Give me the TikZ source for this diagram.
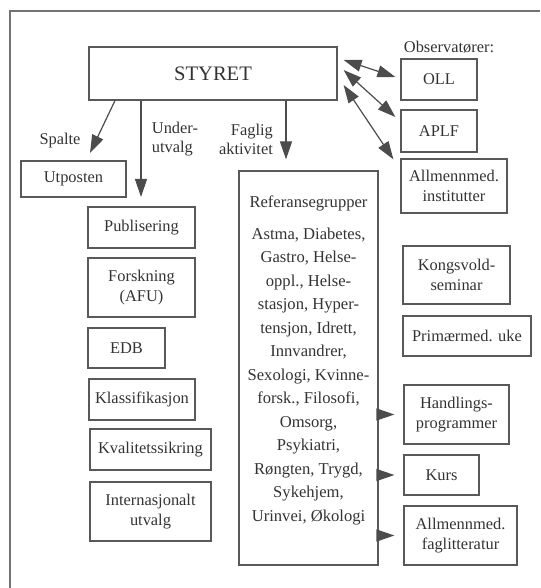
\documentclass[tikz,border=0pt]{standalone}
\usepackage{fontspec}
\setmainfont{Liberation Serif}
\usepackage{tikz}
\usetikzlibrary{arrows.meta,calc}

\begin{document}
\begin{tikzpicture}[x=0.5pt, y=-0.5pt,
		box_style/.style={draw=black!65, line width=0.6pt, inner sep=0pt, align=center,
			text=black!80, font=\fontsize{8.2}{10}\selectfont},
		label_style/.style={inner sep=0pt, text=black!80, font=\fontsize{8.2}{9.5}\selectfont},
		arrow_style/.style={draw=black!70, line width=0.6pt, -{Triangle[length=9pt,width=6pt]}},
		darrow_style/.style={draw=black!70, line width=0.6pt,
			{Triangle[length=9pt,width=6pt]}-{Triangle[length=9pt,width=6pt]}},
		frame_style/.style={draw=black!55, line width=0.7pt}]
		
		\useasboundingbox (0,0) rectangle (540,588);
		\draw[frame_style] (540,11) -- (10,11) -- (10,588);
		
		% top
		\node[box_style, minimum width=124pt, minimum height=26.5pt,
			font=\fontsize{10.3}{12}\selectfont] (styret) at (213,73.5) {STYRET};
		\node[label_style] (obs) at (449,47) {Observatører:};
		\node[box_style, minimum width=38pt, minimum height=20.5pt] (oll) at (439,79.5) {OLL};
		\node[box_style, minimum width=38pt, minimum height=21pt] (aplf) at (439,131) {APLF};
		\node[box_style, minimum width=53pt, minimum height=27pt] (inst) at (454,186) {Allmennmed.\\institutter};
		
		% left column
		\node[box_style, minimum width=52.5pt, minimum height=18pt] (utposten) at (73.5,179) {Utposten};
		\node[box_style, minimum width=53.5pt, minimum height=20.5pt] (publ) at (141.5,227.5) {Publisering};
		\node[box_style, minimum width=53.5pt, minimum height=29.5pt] (forsk) at (141.5,287.5) {Forskning\\(AFU)};
		\node[box_style, minimum width=38.5pt, minimum height=20pt] (edb) at (126.5,348) {EDB};
		\node[box_style, minimum width=53pt, minimum height=20.5pt] (klass) at (142,399.5) {Klassifikasjon};
		\node[box_style, minimum width=60.5pt, minimum height=20.5pt] (kval) at (150.5,449.5) {Kvalitetssikring};
		\node[box_style, minimum width=60.5pt, minimum height=29.5pt] (intern) at (150.5,511.5) {Internasjonalt\\utvalg};
		
		% reference groups
		\node[box_style, minimum width=69.5pt, minimum height=197pt] (ref) at (308.5,368) {};
		\node[label_style, align=center, font=\fontsize{8.3}{11.75}\selectfont] (refText) at (308.5,360)
			{Referansegrupper\\[4.25pt]
			Astma, Diabetes,\\Gastro, Helse-\\oppl., Helse-\\stasjon, Hyper-\\tensjon, Idrett,\\
			Innvandrer,\\Sexologi, Kvinne-\\forsk., Filosofi,\\Omsorg,\\Psykiatri,\\
			Røngten, Trygd,\\Sykehjem,\\Urinvei, Økologi};
		
		% right column
		\node[box_style, minimum width=53.5pt, minimum height=29pt] (kongsvold) at (456.5,275) {Kongsvold-\\seminar};
		\node[box_style, minimum width=64pt, minimum height=20pt] (primaer) at (467,336) {Primærmed. uke};
		\node[box_style, minimum width=52.5pt, minimum height=29.5pt] (handl) at (456.5,414.5) {Handlings-\\programmer};
		\node[box_style, minimum width=37.5pt, minimum height=20pt] (kurs) at (441.5,475) {Kurs};
		\node[box_style, minimum width=56.5pt, minimum height=29.5pt] (faglitt) at (460.5,535.5) {Allmennmed.\\faglitteratur};
		
		% labels
		\node[label_style] (spalte) at (60,141) {Spalte};
		\node[label_style, align=left] (under) at (175,139) {Under-\\utvalg};
		\node[label_style, align=right] (faglig) at (246,139) {Faglig\\aktivitet};
		
		% arrows from STYRET
		\coordinate (spalteEnd) at (90,153);
		\coordinate (underEnd) at (141,197);
		\draw[arrow_style] (styret.south -| 115,0) -- (spalteEnd);
		\draw[arrow_style] (styret.south -| underEnd) -- (underEnd);
		\draw[arrow_style, shorten >=5.5pt] (styret.south -| 286,0) -- (ref.north -| 286,0);
		
		% observers
		\draw[darrow_style] ($(styret.east)+(6,-13.5)$) -- ($(oll.west)+(-5,-2.5)$);
		\draw[darrow_style] ($(styret.east)+(6,-3.5)$) -- ($(aplf.west)+(-5,-14)$);
		\draw[darrow_style] ($(styret.east)+(6,11.5)$) -- ($(inst.north west)+(-7,1)$);
		
		% from reference groups
		\draw[arrow_style, shorten >=4.5pt] (ref.east |- handl.west) -- (handl.west);
		\draw[arrow_style, shorten >=4.5pt] (ref.east |- kurs.west) -- (kurs.west);
		\draw[arrow_style, shorten >=4.5pt] (ref.east |- faglitt.west) -- (faglitt.west);
		
\end{tikzpicture}
\end{document}
